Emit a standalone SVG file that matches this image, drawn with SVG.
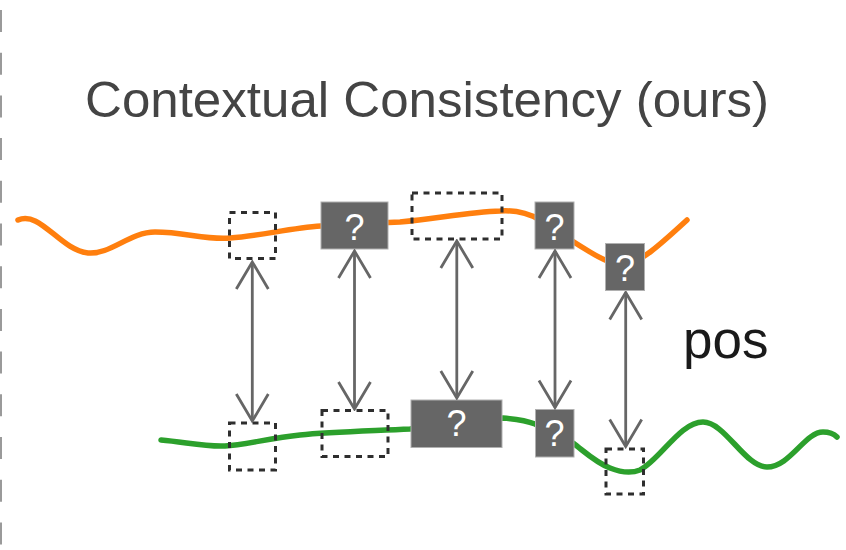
<svg xmlns="http://www.w3.org/2000/svg" width="846" height="550" viewBox="0 0 846 550">
<defs>
<style>
.title{font-family:"Liberation Sans",Arial,sans-serif;font-size:50px;fill:#444444}
.pos{font-family:"Liberation Sans",Arial,sans-serif;font-size:53px;fill:#1a1a1a}
.q{font-family:"Liberation Sans",Arial,sans-serif;font-size:36px;fill:#ffffff;text-anchor:middle}
.gbox{fill:#666666;stroke:#b0b0b0;stroke-width:1}
.dbox{fill:none;stroke:#2e2e2e;stroke-width:3;stroke-dasharray:6 5.5}
.arrow{stroke:#666666;stroke-width:2.8;fill:none;marker-start:url(#head);marker-end:url(#head)}
</style>
<marker id="head" markerUnits="userSpaceOnUse" viewBox="-30 -18 32 36" refX="0" refY="0" markerWidth="32" markerHeight="36" orient="auto-start-reverse">
<path d="M-27,-16 L0,0 L-27,16" fill="none" stroke="#666666" stroke-width="2.8"/>
</marker>
</defs>
<rect width="846" height="550" fill="#ffffff"/>
<line x1="1" y1="10" x2="1" y2="550" stroke="#9a9a9a" stroke-width="2" stroke-dasharray="22 20.7"/>
<text class="title" x="85" y="117" textLength="684" lengthAdjust="spacingAndGlyphs">Contextual Consistency (ours)</text>
<text class="pos" x="683" y="358">pos</text>
<g id="curves">
<path d="M18,220 C40,210 60,250 88,253 C110,255 130,232 155,232 C185,232 205,240 230,238 C260,236 290,228 321,226 C350,224 370,223 400,222 C440,218 470,212 500,211 C515,210 528,213 540,220 C555,230 570,240 590,252 C600,258 610,264 625,264 C640,264 665,240 687,220" fill="none" stroke="#ff7f0e" stroke-width="5.5" stroke-linecap="round"/>
<path d="M161,440 C185,442 205,447 225,446 C245,445 270,438 300,435 C330,432 370,431 410,429 L503,418 C515,419 525,420 535,424 L573,443 C585,452 595,462 610,468 C620,472 630,474 640,470 C660,460 680,422 703,422 C725,422 745,467 767,467 C790,467 805,432 823,432 C830,432 835,435 837,437" fill="none" stroke="#2ca02c" stroke-width="5.5" stroke-linecap="round"/>
</g>
<g id="top-nodes">
<g id="t1"><rect class="dbox" x="229.5" y="212.5" width="46" height="46"/></g>
<g id="t2"><rect class="gbox" x="321" y="202" width="67" height="47"/><text class="q" x="354.5" y="240">?</text></g>
<g id="t3"><rect class="dbox" x="412" y="193" width="90" height="46"/></g>
<g id="t4"><rect class="gbox" x="535" y="202" width="39" height="47"/><text class="q" x="554.5" y="240">?</text></g>
<g id="t5"><rect class="gbox" x="605.5" y="243.5" width="39" height="47"/><text class="q" x="625" y="281">?</text></g>
</g>
<g id="bottom-nodes">
<g id="b1"><rect class="dbox" x="229.5" y="423" width="46" height="47"/></g>
<g id="b2"><rect class="dbox" x="322" y="410.5" width="66" height="46"/></g>
<g id="b3"><rect class="gbox" x="411" y="400" width="91" height="47.5"/><text class="q" x="456.5" y="436">?</text></g>
<g id="b4"><rect class="gbox" x="535.5" y="409.5" width="38.5" height="47.5"/><text class="q" x="554.5" y="446">?</text></g>
<g id="b5"><rect class="dbox" x="606" y="449" width="37.5" height="45"/></g>
</g>
<g id="connectors">
<line class="arrow" x1="252.3" y1="262" x2="252.3" y2="421"/>
<line class="arrow" x1="354.5" y1="251" x2="354.5" y2="409"/>
<line class="arrow" x1="456.8" y1="241" x2="456.8" y2="398"/>
<line class="arrow" x1="555" y1="251" x2="555" y2="407.5"/>
<line class="arrow" x1="625.7" y1="292.5" x2="625.7" y2="446.5"/>
</g>
</svg>
